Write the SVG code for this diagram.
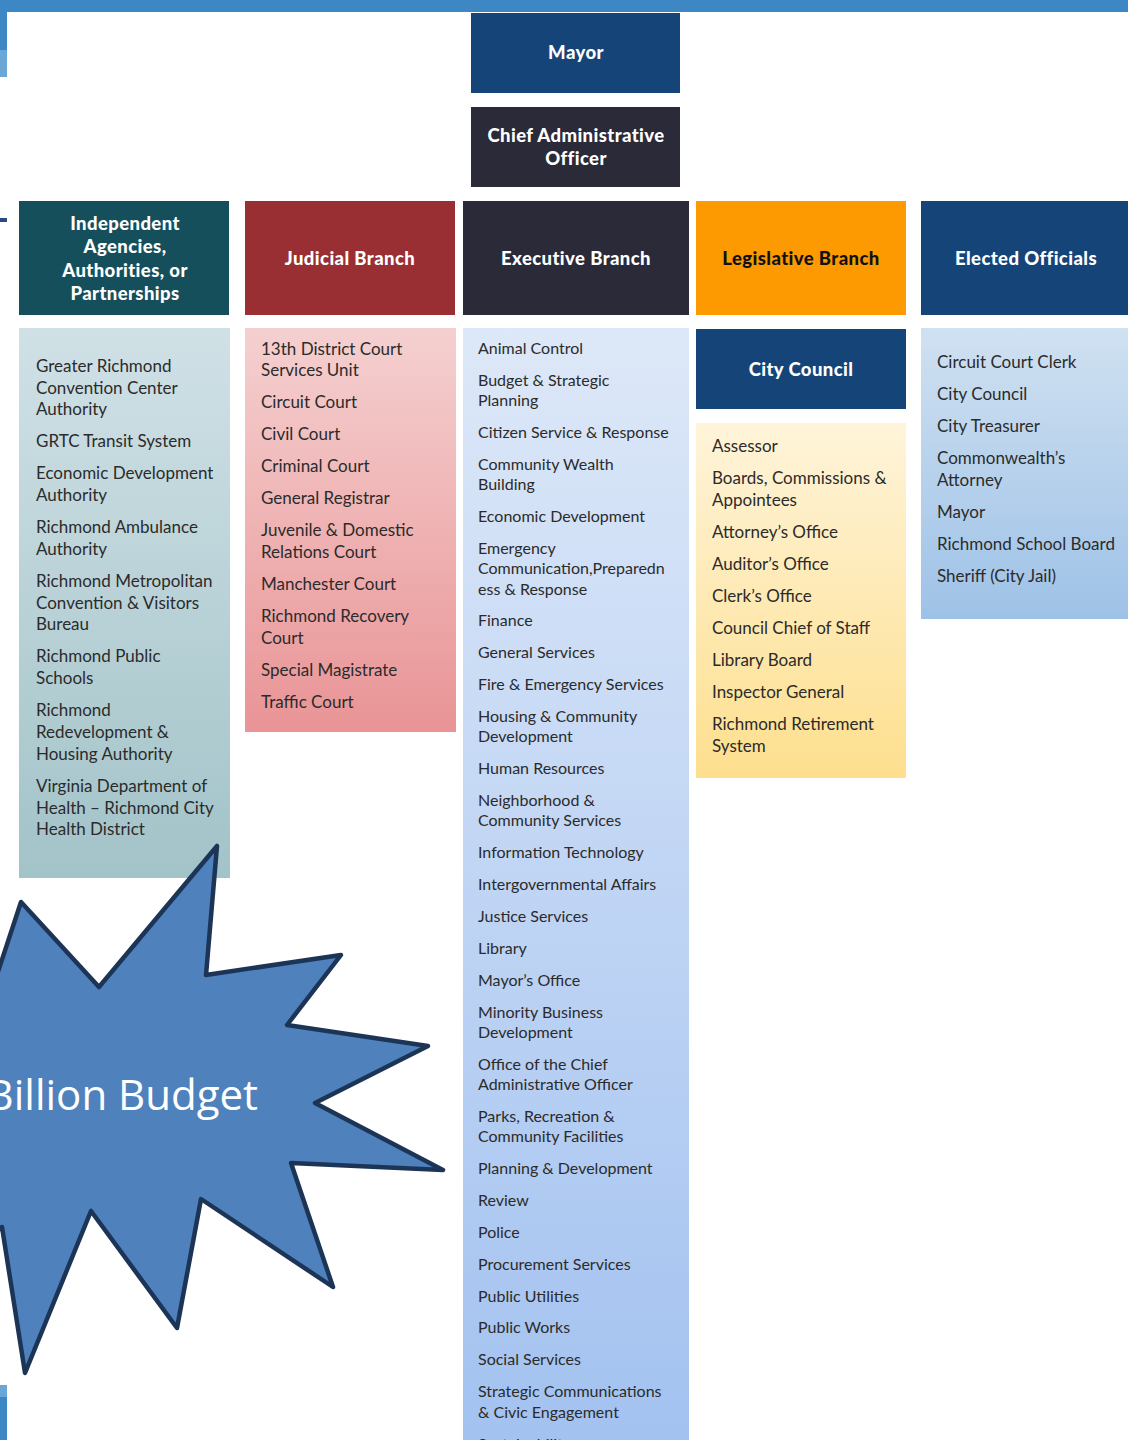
<svg xmlns="http://www.w3.org/2000/svg" width="1128" height="1440" viewBox="0 0 1128 1440">
<defs>
<linearGradient id="gInd" x1="0" y1="0" x2="0" y2="1"><stop offset="0" stop-color="#d0e1e6"/><stop offset="1" stop-color="#a2c3c8"/></linearGradient>
<linearGradient id="gJud" x1="0" y1="0" x2="0" y2="1"><stop offset="0" stop-color="#f5d0d0"/><stop offset="1" stop-color="#e99496"/></linearGradient>
<linearGradient id="gExe" x1="0" y1="0" x2="0" y2="1"><stop offset="0" stop-color="#dde8f8"/><stop offset="1" stop-color="#a3c2f0"/></linearGradient>
<linearGradient id="gLeg" x1="0" y1="0" x2="0" y2="1"><stop offset="0" stop-color="#fff4da"/><stop offset="1" stop-color="#fddf8e"/></linearGradient>
<linearGradient id="gEle" x1="0" y1="0" x2="0" y2="1"><stop offset="0" stop-color="#d0e1f1"/><stop offset="1" stop-color="#9ec2e7"/></linearGradient>
</defs>
<style>
.hd{font-family:Lato,"Noto Sans",sans-serif;font-weight:900;font-size:18.5px;letter-spacing:0.4px;fill:#ffffff;text-anchor:middle}
.it{font-family:Lato,"Noto Sans",sans-serif;font-size:17px;fill:#2b2b2b}
.ex{font-family:Lato,"Noto Sans",sans-serif;font-size:16px;fill:#2b2b2b}
</style>
<rect x="0" y="0" width="1128" height="1440" fill="#ffffff"/>
<g id="frame">
<rect x="0" y="0" width="1128" height="12" fill="#3d87c5"/>
<rect x="0" y="12" width="7" height="38" fill="#3d87c5"/>
<rect x="0" y="50" width="7" height="27" fill="#6aa6d6"/>
<rect x="0" y="218" width="7" height="4" fill="#2a4a80"/>
<rect x="0" y="1385" width="7" height="12" fill="#6aa6d6"/>
<rect x="0" y="1397" width="7" height="43" fill="#3d87c5"/>
</g>
<g id="mayor"><rect x="471" y="13" width="209" height="80" fill="#154479"/><text class="hd" x="576" y="59">Mayor</text></g>
<g id="cao"><rect x="471" y="107" width="209" height="80" fill="#2a2a38"/><text class="hd" x="576" y="142">Chief Administrative</text><text class="hd" x="576" y="165">Officer</text></g>
<g id="hdr-independent"><rect x="19" y="201" width="210" height="114" fill="#164f5c"/>
<text class="hd" x="125" y="230">Independent</text><text class="hd" x="125" y="253">Agencies,</text><text class="hd" x="125" y="277">Authorities, or</text><text class="hd" x="125" y="300">Partnerships</text></g>
<g id="hdr-judicial"><rect x="245" y="201" width="210" height="114" fill="#992f33"/><text class="hd" x="350" y="265">Judicial Branch</text></g>
<g id="hdr-executive"><rect x="463" y="201" width="226" height="114" fill="#2a2a38"/><text class="hd" x="576" y="265">Executive Branch</text></g>
<g id="hdr-legislative"><rect x="696" y="201" width="210" height="114" fill="#fd9a02"/><text class="hd" x="801" y="265" style="fill:#111111">Legislative Branch</text></g>
<g id="hdr-elected"><rect x="921" y="201" width="207" height="114" fill="#154479"/><text class="hd" x="1026" y="265">Elected Officials</text></g>
<g id="list-independent"><rect x="19" y="328" width="211" height="550" fill="url(#gInd)"/>
<text class="it" x="36" y="372">Greater Richmond</text><text class="it" x="36" y="394">Convention Center</text><text class="it" x="36" y="415">Authority</text>
<text class="it" x="36" y="447">GRTC Transit System</text>
<text class="it" x="36" y="479">Economic Development</text><text class="it" x="36" y="501">Authority</text>
<text class="it" x="36" y="533">Richmond Ambulance</text><text class="it" x="36" y="555">Authority</text>
<text class="it" x="36" y="587">Richmond Metropolitan</text><text class="it" x="36" y="609">Convention &amp; Visitors</text><text class="it" x="36" y="630">Bureau</text>
<text class="it" x="36" y="662">Richmond Public</text><text class="it" x="36" y="684">Schools</text>
<text class="it" x="36" y="716">Richmond</text><text class="it" x="36" y="738">Redevelopment &amp;</text><text class="it" x="36" y="760">Housing Authority</text>
<text class="it" x="36" y="792">Virginia Department of</text><text class="it" x="36" y="814">Health – Richmond City</text><text class="it" x="36" y="835">Health District</text>
</g>
<g id="list-judicial"><rect x="245" y="328" width="211" height="404" fill="url(#gJud)"/>
<text class="it" x="261" y="355">13th District Court</text><text class="it" x="261" y="376">Services Unit</text>
<text class="it" x="261" y="408">Circuit Court</text>
<text class="it" x="261" y="440">Civil Court</text>
<text class="it" x="261" y="472">Criminal Court</text>
<text class="it" x="261" y="504">General Registrar</text>
<text class="it" x="261" y="536">Juvenile &amp; Domestic</text><text class="it" x="261" y="558">Relations Court</text>
<text class="it" x="261" y="590">Manchester Court</text>
<text class="it" x="261" y="622">Richmond Recovery</text><text class="it" x="261" y="644">Court</text>
<text class="it" x="261" y="676">Special Magistrate</text>
<text class="it" x="261" y="708">Traffic Court</text>
</g>
<g id="list-executive"><rect x="463" y="328" width="226" height="1112" fill="url(#gExe)"/>
<text class="ex" x="478" y="354">Animal Control</text>
<text class="ex" x="478" y="386">Budget &amp; Strategic</text><text class="ex" x="478" y="406">Planning</text>
<text class="ex" x="478" y="438">Citizen Service &amp; Response</text>
<text class="ex" x="478" y="470">Community Wealth</text><text class="ex" x="478" y="490">Building</text>
<text class="ex" x="478" y="522">Economic Development</text>
<text class="ex" x="478" y="554">Emergency</text><text class="ex" x="478" y="574">Communication,Preparedn</text><text class="ex" x="478" y="595">ess &amp; Response</text>
<text class="ex" x="478" y="626">Finance</text>
<text class="ex" x="478" y="658">General Services</text>
<text class="ex" x="478" y="690">Fire &amp; Emergency Services</text>
<text class="ex" x="478" y="722">Housing &amp; Community</text><text class="ex" x="478" y="742">Development</text>
<text class="ex" x="478" y="774">Human Resources</text>
<text class="ex" x="478" y="806">Neighborhood &amp;</text><text class="ex" x="478" y="826">Community Services</text>
<text class="ex" x="478" y="858">Information Technology</text>
<text class="ex" x="478" y="890">Intergovernmental Affairs</text>
<text class="ex" x="478" y="922">Justice Services</text>
<text class="ex" x="478" y="954">Library</text>
<text class="ex" x="478" y="986">Mayor’s Office</text>
<text class="ex" x="478" y="1018">Minority Business</text><text class="ex" x="478" y="1038">Development</text>
<text class="ex" x="478" y="1070">Office of the Chief</text><text class="ex" x="478" y="1090">Administrative Officer</text>
<text class="ex" x="478" y="1122">Parks, Recreation &amp;</text><text class="ex" x="478" y="1142">Community Facilities</text>
<text class="ex" x="478" y="1174">Planning &amp; Development</text>
<text class="ex" x="478" y="1206">Review</text>
<text class="ex" x="478" y="1238">Police</text>
<text class="ex" x="478" y="1270">Procurement Services</text>
<text class="ex" x="478" y="1302">Public Utilities</text>
<text class="ex" x="478" y="1333">Public Works</text>
<text class="ex" x="478" y="1365">Social Services</text>
<text class="ex" x="478" y="1397">Strategic Communications</text><text class="ex" x="478" y="1418">&amp; Civic Engagement</text>
<text class="ex" x="478" y="1450">Sustainability</text>
</g>
<g id="city-council"><rect x="696" y="329" width="210" height="80" fill="#154479"/><text class="hd" x="801" y="376">City Council</text></g>
<g id="list-legislative"><rect x="696" y="423" width="210" height="355" fill="url(#gLeg)"/>
<text class="it" x="712" y="452">Assessor</text>
<text class="it" x="712" y="484">Boards, Commissions &amp;</text><text class="it" x="712" y="506">Appointees</text>
<text class="it" x="712" y="538">Attorney’s Office</text>
<text class="it" x="712" y="570">Auditor’s Office</text>
<text class="it" x="712" y="602">Clerk’s Office</text>
<text class="it" x="712" y="634">Council Chief of Staff</text>
<text class="it" x="712" y="666">Library Board</text>
<text class="it" x="712" y="698">Inspector General</text>
<text class="it" x="712" y="730">Richmond Retirement</text><text class="it" x="712" y="752">System</text>
</g>
<g id="list-elected"><rect x="921" y="328" width="207" height="291" fill="url(#gEle)"/>
<text class="it" x="937" y="368">Circuit Court Clerk</text>
<text class="it" x="937" y="400">City Council</text>
<text class="it" x="937" y="432">City Treasurer</text>
<text class="it" x="937" y="464">Commonwealth’s</text><text class="it" x="937" y="486">Attorney</text>
<text class="it" x="937" y="518">Mayor</text>
<text class="it" x="937" y="550">Richmond School Board</text>
<text class="it" x="937" y="582">Sheriff (City Jail)</text>
</g>
<g id="connectors"></g>
<g id="starburst">
<polygon points="-10,996 21,902 99,987 217,846 206,975 341,955 287,1025 428,1046 315,1103 443,1170 291,1163 333,1287 201,1199 177,1328 91,1211 25,1373 2,1227 -40,1260 -60,1100" fill="#4f81bd" stroke="#1c3557" stroke-width="4.5" stroke-linejoin="round"/>
<text x="258" y="1110" text-anchor="end" font-family="'Open Sans','Noto Sans',sans-serif" font-size="42" fill="#ffffff">Billion Budget</text>
</g>
</svg>
